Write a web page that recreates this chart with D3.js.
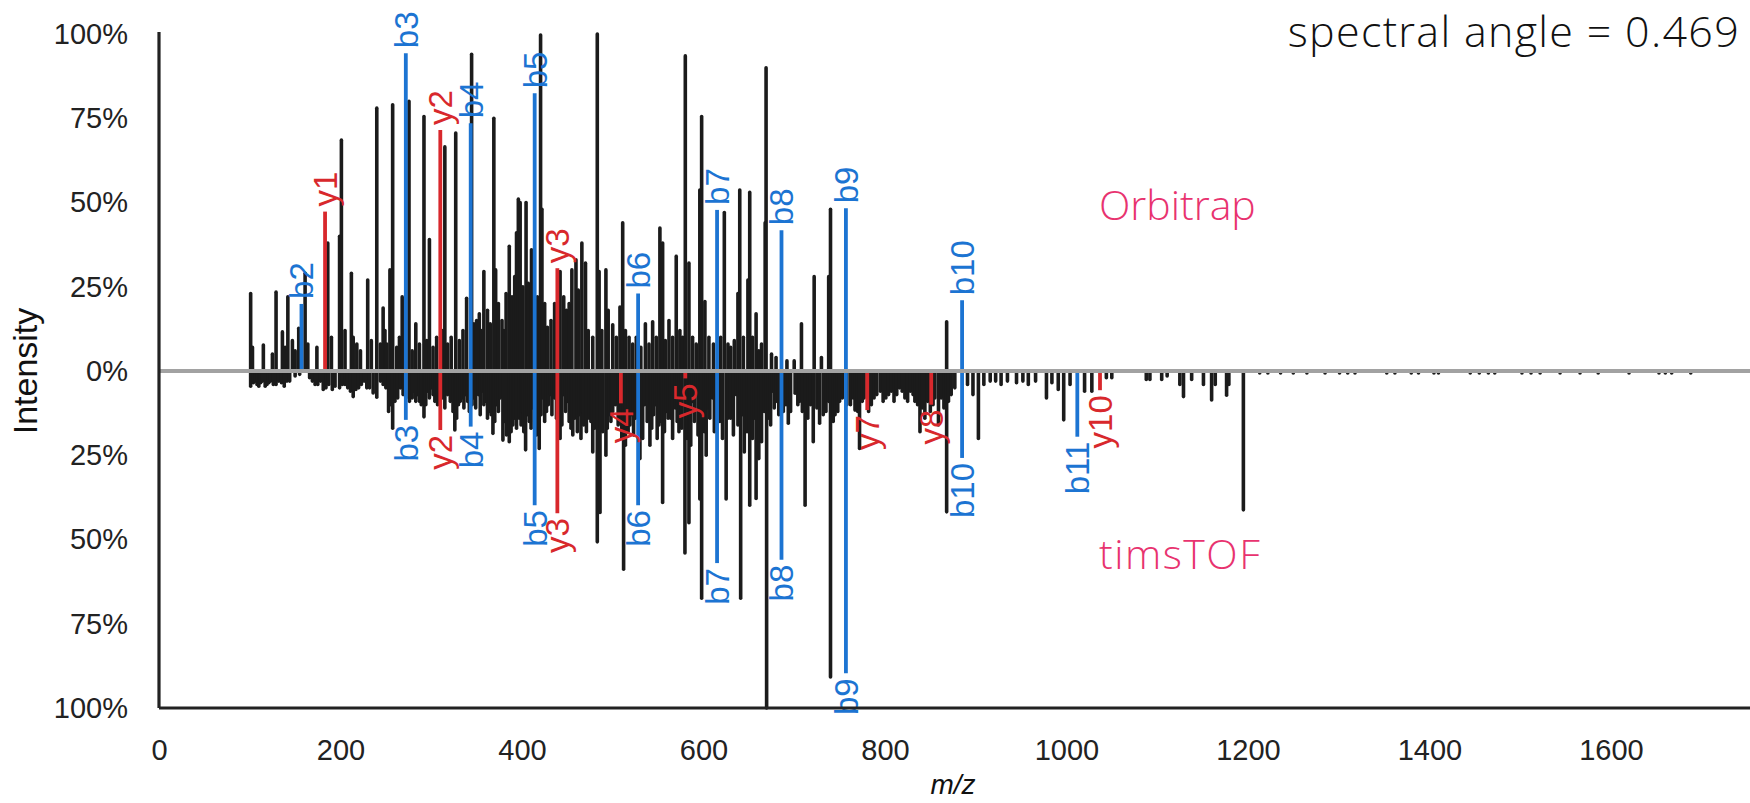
<!DOCTYPE html>
<html>
<head>
<meta charset="utf-8">
<script src="https://cdn.jsdelivr.net/npm/d3@7"></script>
<style>
  body { margin: 0; background: #fff; }
  svg { display: block; }
</style>
</head>
<body>
<div id="spectrum"></div>
<script>
// peaks: [m/z, relative intensity in %]
const orbitrapPeaks = [
  [101,23],[103,7],[115,7.7],[125,5],[129,23.4],[136,11.6],[139,7],[142,22],[147,9],
  [150,6],[154,12.7],[161,29],[164,8],[174,7],[186,38],[190,10],[199,40],[201,68.5],
  [205,12],[212,29],[214,10],[218,8],[222,6],[230,27],[234,9],[240,78],[244,8],
  [247,18.7],[249,12],[251,8],[254.5,30],[257.5,79],[262,7],[265,10],[268,22],[271,8],
  [275.5,80],[279,6],[283,14],[287,8],[292,75.5],[295,9],[298,39],[302,7],[306,10],
  [312,12],[315,66.5],[318,8],[322,10],[327,70.6],[331,9],[335,12],[339,21.6],
  [344.5,94],[347,14],[350,15],[353,17],[355,12],[358,29.5],[362,18],[365,14],
  [369,75],[371,30],[374,20],[378,15],[380,12],[382.5,23],[386,37],[389,22],[392,28],
  [394,41],[396,51],[398,50],[401,25],[404.5,50],[407,26],[410.5,36],[412,18],
  [417,22],[420.5,99.7],[422,48],[425,20],[428,13],[432,15],[436,20],[442,29.5],
  [446,22],[449,18],[452,20],[455,30],[459.5,33],[462,24],[466,38],[470,32],[473,12],
  [478,10],[483,100],[485,29.5],[488,12],[492.5,30],[495,18],[500,13.7],[504,10],
  [508,19],[511,44],[514,12],[518,10],[522,8],[526,10],[531,7],[536,14],[540,8],
  [544,14.6],[548,10],[552,42.4],[555,38],[558,9],[562,15],[566,10],[570,34],[574,12],
  [577,10],[580,93.5],[584,32],[588,10],[592,8],[596,53.7],[598,75.5],[601.6,20.6],
  [606,10],[611,8],[619,10],[623,47],[627,8],[630,7],[634,9],[638,23],[640,53.7],
  [644,10],[649,27],[651,53],[654,10],[658,17],[661,6],[664,8],[668,44],[669,90],
  [675,5],[680,4],[692,3],[700,3],[708,14],[722,28],[730,4],[738,28],[740,48],[868,14.6]
];
const timstofPeaks = [
  [101,4.5],[104,3.5],[106,3],[108,4],[110,4.5],[112,3.5],[114,3],[117,4.5],[119,4],
  [121,3.5],[123,3],[126,4],[129,4],[132,3],[135,3.5],[138,4.5],[141,3],[144,3],
  [150,1.5],[155,1],[166,2],[169,3],[172,4],[175,4],[178,3],[181,5.5],[184,5],[187,4],
  [191,5.5],[194,4.5],[199,5],[202,4],[205,4],[208,5],[211,6],[214,7.6],[217,5.5],
  [220,5],[223,4],[226,3],[229,5],[232,5],[236,6.5],[240,7.8],[244,3],[247,4],[250,5],
  [253,12],[255,10],[257.5,17],[260,9],[263,8],[266,5],[269,7],[272,8],[276,9],
  [279,8],[281,6],[283,9],[285,7],[287,9],[289,10],[292,13.6],[294,10],[296,6],
  [298,8],[300,5],[302,7],[304,9],[307,10],[309,9],[312,8],[315,11],[318,7],[321,9],
  [324,12],[326,17.5],[328,14],[330,10],[332,9],[334,8],[336,11],[338,7],[340,9],
  [342,12],[345,10],[347,8],[349,11],[352,7],[354,13],[356,6],[358,10],[360,9],
  [362,14],[364,12],[366,13],[368,18.5],[370,15],[372,10],[374,12],[376,8],[379,20.5],
  [381,15],[383,19],[386,21],[388,18],[390,16],[392,14],[394,17],[397,14],[399,16],
  [400,12],[402,18],[404,23.4],[406,13],[408,15],[410,17],[412,11],[414,15],[416,19],
  [419,23],[421,13],[423,8],[425,15],[427,12],[429,10],[431,7],[433,13],[436,8],
  [438,14],[440,12],[442,20],[444,16],[446,7],[448,12],[450,9],[452,15],[454,17],
  [456,19],[458,14],[461,18],[463,13],[465,20],[466,12],[468,16],[471,18],[474,14],
  [476,15],[478,24],[480,17],[483,50.7],[486,42],[489,18],[492.5,25],[494,17],
  [496,13],[498,15],[500,12],[503,10],[506,16],[508,14],[510,20],[512,58.8],[514,22],
  [517,18],[519,16],[521,13],[523,19],[525,14],[528,12],[530,26],[533,20],[535,10],
  [538,15],[541,22],[543,17],[545,13],[547,10],[549,20],[551,16],[553,15],[555,39],
  [557,18],[559,12],[561,14],[564,14],[566,20],[569,11],[571,15],[573,18],[576,17],
  [579.6,54],[582,20],[584,45],[586,22],[588,9],[590,15],[592,7],[594,19],[596,38],
  [598,67.4],[601,18],[603,25],[605,11],[607,14],[610,8],[612,18],[614,12],[618,15],
  [621,20],[625,38],[627,14],[630,14],[633,19],[636,7],[638,16],[641,67.4],[643,13],
  [645,24],[648,18],[651,39.8],[654,20],[656,14],[658,37.8],[661,26],[664,21],[667,12],
  [669.6,100],[672,14],[674,16],[676,6],[678,11],[680,9],[683,13],[688,12],[691,10],
  [693.5,15.5],[696,12],[701,6.6],[704,10],[706,9],[709,12],[712,39.8],[715,14],
  [718,10],[721,21],[725,11],[728,15.5],[732,13],[735,12],[738,9],[740,90.8],[743,15],
  [745,13],[748,12],[750,9],[753,8],[758,10],[762,10],[765,8],[767,11.6],[770,12],
  [772,23],[775,9],[777,8],[782,12],[785,10],[788,8],[791,7],[795,6],[798,9],[801,8],
  [804,7],[807,6],[810,9],[813,7],[816,5],[819,6],[822,8],[825,9],[828,6],[831,7],
  [833,9],[836,10],[838.6,18],[841,11],[844,14],[847,9],[850,12],[853,10],[855,8],
  [859,16],[862,8],[865,11],[868,41.8],[870,9],[873,7],[877,5],[891,4],[897,7],
  [903,20],[909,4],[916,3],[922,3],[928,4],[935,3],[945,3.5],[952,3],[958,4],[966,3],
  [978,8],[984,3.5],[991,5.5],[997,14.5],[1004,4],[1020,6],[1028,6],[1044,2],[1050,2],
  [1088,2.5],[1092,2.5],[1105,2.5],[1111,1.5],[1125,4],[1129,7.6],[1138,2.5],[1151,4],
  [1160,8.6],[1164,4],[1176.5,7.2],[1179,4],[1195,41.2],[1213,0.6],[1222,0.6],
  [1236,0.6],[1250,0.6],[1265,0.6],[1285,0.6],[1301,0.6],[1310,0.6],[1318,0.6],
  [1353,0.6],[1362,0.6],[1380,0.6],[1388,0.6],[1405,0.6],[1410,0.6],[1445,0.6],
  [1455,0.6],[1465,0.6],[1472,0.6],[1502,0.6],[1512,0.6],[1522,0.6],[1544,0.6],
  [1566,0.6],[1586,0.6],[1620,0.6],[1653,0.6],[1660,0.6],[1667,0.6],[1688,0.6]
];

// annotated fragment ions: [label, m/z, intensity %]
const orbitrapIons = [
  ["b2",157,19.9],["y1",183,47.3],["b3",272,94.3],["y2",310,71.5],["b4",343.5,73.5],
  ["b5",414,82.4],["y3",439,30.5],["b6",528,23],["b7",615,47.8],["b8",686,41.8],
  ["b9",757,48.3],["b10",885,21]
];
const timstofIons = [
  ["b3",272,14.5],["y2",310,17.5],["b4",343.5,16.5],["b5",414,39.8],["y3",439,42.2],
  ["y4",509,9.6],["b6",528,39.8],["y5",580,2.2],["b7",615,57],["b8",686,56],
  ["b9",757,89.7],["y7",780.5,11.6],["y8",851,10],["b10",885,25.8],["b11",1012,19.5],
  ["y10",1037,5.7]
];

const xTicks = [0, 200, 400, 600, 800, 1000, 1200, 1400, 1600];
const yTicks = [-100, -75, -50, -25, 0, 25, 50, 75, 100];
const spectralAngle = "0.469";

const ionColor = {b: "#1c74d2", y: "#d8282c"};
const pink = "#e8336f";
const axisFont = "'Liberation Sans', Arial, sans-serif";
const noteFont = "'Open Sans', 'Noto Sans', sans-serif";

const margin = {top: 34, right: 3, bottom: 95, left: 159},
    width = 1750 - margin.left - margin.right,
    height = 803 - margin.top - margin.bottom;

const svg = d3.select("#spectrum")
  .append("svg")
  .attr("width", width + margin.left + margin.right)
  .attr("height", height + margin.top + margin.bottom)
  .append("g")
  .attr("transform", `translate(${margin.left},${margin.top})`);

const x = d3.scaleLinear().domain([0, 1750]).range([0, width]);
const y = d3.scaleLinear().domain([-100, 100]).range([height, 0]);

// mirror spectrum: orbitrap up, timsTOF down
function drawPeaks(data, sign) {
  svg.append("g")
    .selectAll("line")
    .data(data)
    .join("line")
    .attr("x1", d => x(d[0]))
    .attr("x2", d => x(d[0]))
    .attr("y1", y(0))
    .attr("y2", d => y(sign * d[1]))
    .attr("stroke", "#1b1b1b")
    .attr("stroke-width", 3.6)
    .attr("stroke-linecap", "round");
}
drawPeaks(orbitrapPeaks, 1);
drawPeaks(timstofPeaks, -1);

function drawIons(data, sign) {
  const g = svg.append("g");
  g.selectAll("line")
    .data(data)
    .join("line")
    .attr("x1", d => x(d[1]))
    .attr("x2", d => x(d[1]))
    .attr("y1", y(0))
    .attr("y2", d => y(sign * d[2]))
    .attr("stroke", d => ionColor[d[0][0]])
    .attr("stroke-width", 3.8);
  return g;
}
const upIons = drawIons(orbitrapIons, 1);
const downIons = drawIons(timstofIons, -1);

// zero line
svg.append("line")
  .attr("x1", 0).attr("x2", width + margin.right)
  .attr("y1", y(0)).attr("y2", y(0))
  .attr("stroke", "#a2a2a2")
  .attr("stroke-width", 4);

// ion labels
upIons.selectAll("text")
  .data(orbitrapIons)
  .join("text")
  .attr("transform", d => `translate(${x(d[1])},${y(d[2]) - 5}) rotate(-90)`)
  .attr("dy", "0.36em")
  .attr("text-anchor", "start")
  .attr("font-family", axisFont)
  .attr("font-size", 33)
  .attr("fill", d => ionColor[d[0][0]])
  .text(d => d[0]);

downIons.selectAll("text")
  .data(timstofIons)
  .join("text")
  .attr("transform", d => `translate(${x(d[1])},${y(-d[2]) + 5}) rotate(-90)`)
  .attr("dy", "0.36em")
  .attr("text-anchor", "end")
  .attr("font-family", axisFont)
  .attr("font-size", 33)
  .attr("fill", d => ionColor[d[0][0]])
  .text(d => d[0]);

// axes
const yAxis = svg.append("g")
  .call(d3.axisLeft(y)
    .tickValues(yTicks)
    .tickFormat(d => Math.abs(d) + "%")
    .tickSize(0)
    .tickPadding(31));

const xAxis = svg.append("g")
  .attr("transform", `translate(0, ${height})`)
  .call(d3.axisBottom(x)
    .tickValues(xTicks)
    .tickFormat(d3.format("d"))
    .tickSize(0)
    .tickPadding(31));

[yAxis, xAxis].forEach(function(ax) {
  ax.select(".domain").attr("stroke", "#222").attr("stroke-width", 3.2);
  ax.selectAll("text")
    .attr("font-family", axisFont)
    .attr("font-size", 29)
    .attr("fill", "#222");
});
xAxis.select(".domain").attr("d", `M0,0H${width + margin.right}`);
yAxis.select(".domain").attr("d", `M0,-2V${height}`);

// axis titles
svg.append("text")
  .attr("transform", `translate(${37 - margin.left},${y(0)}) rotate(-90)`)
  .attr("text-anchor", "middle")
  .attr("font-family", axisFont)
  .attr("font-size", 34)
  .attr("fill", "#111")
  .text("Intensity");

svg.append("text")
  .attr("x", width / 2)
  .attr("y", 794 - margin.top)
  .attr("text-anchor", "middle")
  .attr("font-family", axisFont)
  .attr("font-style", "italic")
  .attr("font-size", 28)
  .attr("fill", "#111")
  .text("m/z");

// annotations
svg.append("text")
  .attr("x", 1740 - margin.left)
  .attr("y", 47 - margin.top)
  .attr("text-anchor", "end")
  .attr("font-family", noteFont)
  .attr("font-weight", 300)
  .attr("font-size", 43)
  .attr("letter-spacing", 1.3)
  .attr("fill", "#111")
  .text("spectral angle = " + spectralAngle);

svg.append("text")
  .attr("x", 1099 - margin.left)
  .attr("y", 220 - margin.top)
  .attr("font-family", noteFont)
  .attr("font-weight", 300)
  .attr("font-size", 41)
  .attr("fill", pink)
  .text("Orbitrap");

svg.append("text")
  .attr("x", 1099 - margin.left)
  .attr("y", 569 - margin.top)
  .attr("font-family", noteFont)
  .attr("font-weight", 300)
  .attr("font-size", 41)
  .attr("letter-spacing", 1.5)
  .attr("fill", pink)
  .text("timsTOF");
</script>
</body>
</html>
